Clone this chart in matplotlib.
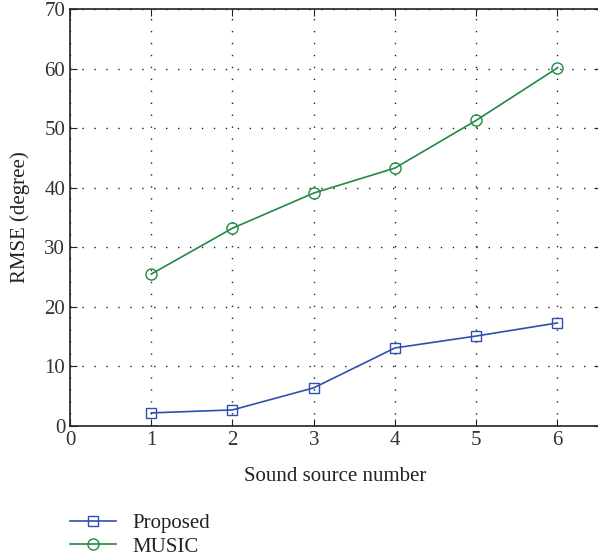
import matplotlib
matplotlib.use("Agg")
import matplotlib.pyplot as plt

x_vals = [1, 2, 3, 4, 5, 6]
proposed = [2.2, 2.7, 6.4, 13.1, 15.1, 17.3]
music = [25.5, 33.2, 39.1, 43.3, 51.3, 60.1]
xticks = [0, 1, 2, 3, 4, 5, 6]
yticks = [0, 10, 20, 30, 40, 50, 60, 70]

plt.rcParams['font.family'] = ['Liberation Serif', 'DejaVu Serif']

W, H = 598, 560
fig = plt.figure(figsize=(W/100, H/100), dpi=100)
ax = fig.add_axes([70/W, 1-426/H, 531/W, 417/H])

blue = '#2f4fb0'
green = '#1f8a45'
l1, = ax.plot(x_vals, proposed, color=blue, marker='s', markersize=7, markerfacecolor='none',
              markeredgecolor=blue, linewidth=1.2, label='Proposed')
l2, = ax.plot(x_vals, music, color=green, marker='o', markersize=8, markerfacecolor='none',
              markeredgecolor=green, linewidth=1.2, label='MUSIC')

ax.set_xlim(0, 6.537)
ax.set_ylim(0, 70)
ax.set_xticks(xticks)
ax.set_yticks(yticks)
ax.tick_params(direction='in', labelsize=15, colors='#222222', length=5,
               top=True, right=True)
for lab in ax.get_xticklabels() + ax.get_yticklabels():
    lab.set_color('#333333')
ax.grid(True, linestyle=(0, (1, 7.6)), color='#222222', linewidth=1.0)
for s in ax.spines.values():
    s.set_color('#222222')
    s.set_linewidth(1.2)
ax.set_xlabel('Sound source number', fontsize=15, color='#222222', labelpad=12)
ax.set_ylabel('RMSE (degree)', fontsize=15, color='#222222', labelpad=10)

fig.legend(handles=[l1, l2], loc='upper left', bbox_to_anchor=(62/W, 1-505/H),
           frameon=False, fontsize=15, handlelength=2.2, labelspacing=0.2,
           borderaxespad=0, labelcolor='#222222')

fig.savefig('out.png', dpi=100)
